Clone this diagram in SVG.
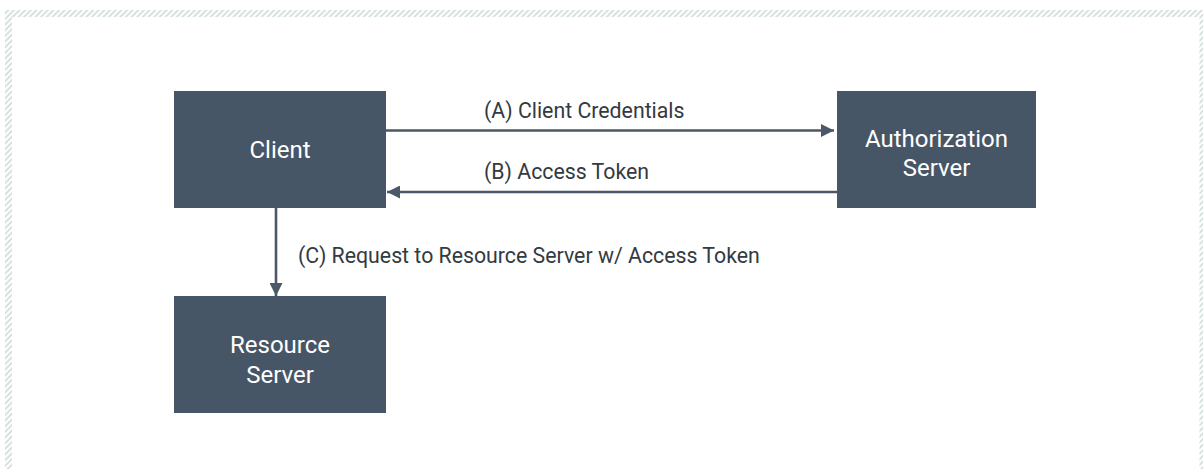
<svg xmlns="http://www.w3.org/2000/svg" width="1203" height="469" viewBox="0 0 1203 469">
<defs>
<pattern id="hatch" width="4" height="4" patternUnits="userSpaceOnUse" patternTransform="rotate(45)">
<rect width="4" height="4" fill="#ffffff"/>
<rect width="2" height="4" fill="#d6e1e1"/>
</pattern>
<marker id="arrow" viewBox="0 0 10 10" refX="10" refY="5" markerWidth="7" markerHeight="5" markerUnits="strokeWidth" orient="auto">
<path d="M0,0 L10,5 L0,10 z" fill="#4a5868"/>
</marker>
<style>
.node rect{fill:#475667}
.node text{fill:#ffffff;font-family:Roboto,"Liberation Sans",sans-serif;font-size:24px;text-anchor:middle}
.lbl{fill:#333a40;font-family:Roboto,"Liberation Sans",sans-serif;font-size:21.3px}
.edge{stroke:#4a5868;stroke-width:2.6;fill:none;marker-end:url(#arrow)}
</style>
</defs>
<rect width="1203" height="469" fill="#ffffff"/>
<path d="M8.5,480 L8.5,13.5 L1210,13.5" fill="none" stroke="url(#hatch)" stroke-width="7"/>
<rect x="1199.5" y="13" width="4" height="470" fill="url(#hatch)"/>
<g id="client" class="node">
<rect x="174" y="91" width="212" height="117"/>
<text x="280" y="158">Client</text>
</g>
<g id="authorization-server" class="node">
<rect x="837" y="91" width="199" height="117"/>
<text x="936.5" y="147">Authorization</text>
<text x="936.5" y="176">Server</text>
</g>
<g id="resource-server" class="node">
<rect x="174" y="296" width="212" height="117"/>
<text x="280" y="353">Resource</text>
<text x="280" y="383">Server</text>
</g>
<g id="connectors">
<line class="edge" x1="386" y1="130.5" x2="834" y2="130.5"/>
<line class="edge" x1="837" y1="192" x2="387" y2="192"/>
<line class="edge" x1="276" y1="208" x2="276" y2="296"/>
<text class="lbl" x="484" y="117.5">(A) Client Credentials</text>
<text class="lbl" x="484" y="178.5">(B) Access Token</text>
<text class="lbl" x="298" y="262.5">(C) Request to Resource Server w/ Access Token</text>
</g>
</svg>
